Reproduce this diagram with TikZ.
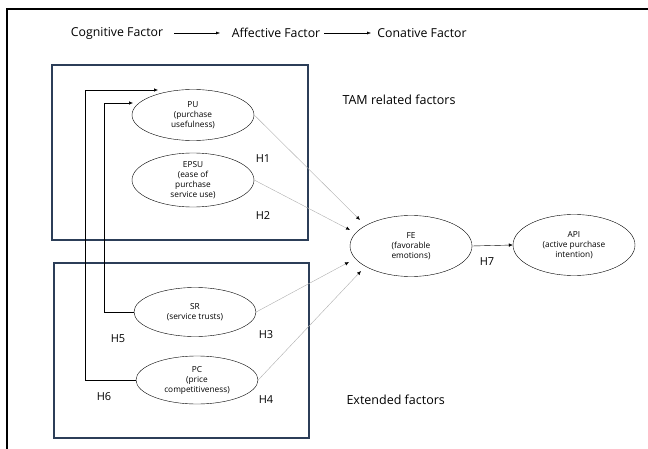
\documentclass[tikz,border=0pt]{standalone}
\usepackage{fontspec}
\setmainfont{Open Sans}
\usepackage{xcolor}
\usepackage{tikz}
\usetikzlibrary{positioning}
\usetikzlibrary{arrows,arrows.meta,shapes}
\definecolor{boxblue}{RGB}{44,62,88}
\definecolor{linegray}{RGB}{175,175,175}
\tikzstyle{factor}=[ellipse,draw,thin,minimum width=122pt,inner sep=0pt,align=center,font=\fontsize{8.3}{10}\selectfont]
\tikzstyle{edge} = [draw,linegray,thin,-{Latex[length=4pt,width=3.5pt,black]}]
\tikzstyle{fbedge} = [draw,black,semithick,-{Latex[length=4pt,width=3.5pt]}]
\tikzstyle{group} = [draw=boxblue,line width=1.2pt]
\tikzstyle{hyp} = [font=\fontsize{11}{13}\selectfont]
\tikzstyle{title} = [font=\fontsize{12.3}{14}\selectfont]
\tikzstyle{grouplab} = [font=\fontsize{12.5}{14}\selectfont, anchor=west]

\begin{document}
\begin{tikzpicture}[x=1pt,y=-1pt]

   \useasboundingbox (0,0) rectangle (648,449);

   % outer frame
   \draw[line width=2pt] (648,9) -- (7,9) -- (7,449);

   % group boxes
   \draw[group] (52,65) rectangle (308,240);
   \draw[group] (54,263) rectangle (309,438);
   \node[grouplab] (tamlab) at (339,100) {TAM related factors};
   \node[grouplab] (extlab) at (343,400) {Extended factors};

   % title row
   \foreach \x/\name/\label in {117/cog/Cognitive Factor, 276/aff/Affective Factor, 422/con/Conative Factor}
          \node[title] (\name) at (\x, 33) {\label};
   \draw[-{Latex[length=4pt,width=3pt]}, thin] (174,33) -- (220,33);
   \draw[-{Latex[length=4pt,width=3pt]}, thin] (324,33) -- (371,33);

  \foreach \x/\y/\h/\name/\label in { 193/115/51/pu/{PU\\(purchase\\usefulness)},
                                     193/180/54/epsu/{EPSU\\(ease of\\purchase\\service use)},
                                     195/312/49/sr/{SR\\(service trusts)},
                                     197/380/48/pc/{PC\\(price\\competitiveness)},
                                     411/246/61/fe/{FE\\(favorable\\emotions)},
                                     574/245/61/api/{API\\(active purchase\\intention)}}
          \node[factor, minimum height=\h pt] (\name) at (\x, \y) {\label};

  \foreach \x/\y/\name/\label in { 263/159/h1/H1, 263/216/h2/H2, 266/335/h3/H3, 266/400/h4/H4,
                                   118/339/h5/H5, 104/397/h6/H6, 487/262/h7/H7}
          \node[hyp] (\name) at (\x, \y) {\label};

  \coordinate (t1) at (360,220);
  \coordinate (t2) at (350,230);
  \coordinate (t3) at (349,262);
  \coordinate (t4) at (361,271);

  \foreach \source/ \dest in {pu/t1, epsu/t2, sr/t3, pc/t4}
         \path[edge] (\source.east) -- (\dest);
  \path[edge, draw=black] (fe.east) -- (api.west);

  % feedback links
  \coordinate (k1) at (85,90);
  \coordinate (k2) at (104,103);
  \coordinate (e1) at (158,90);
  \coordinate (e2) at (133,103);
  \path[fbedge] (pc.west) -| (k1) -- (e1);
  \path[fbedge] (sr.west) -| (k2) -- (e2);

\end{tikzpicture}
\end{document}
